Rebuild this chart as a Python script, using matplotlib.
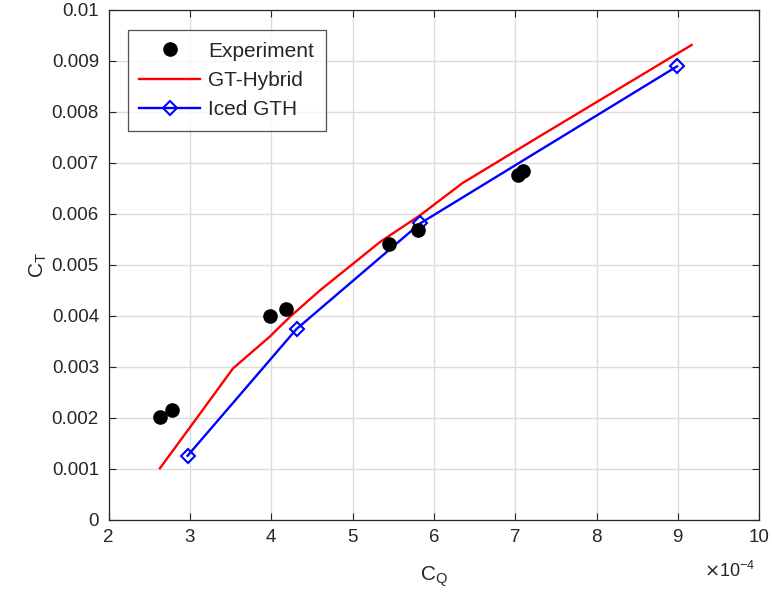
import matplotlib
matplotlib.use('Agg')
import matplotlib.pyplot as plt
import numpy as np

plt.rcParams['font.family'] = ['Liberation Sans', 'DejaVu Sans']

# C_Q values are in units of 1e-4 (axis shows x10^-4 offset)
exp_cq = [2.63, 2.78, 3.98, 4.18, 5.45, 5.80, 7.03, 7.09]
exp_ct = [0.00202, 0.00216, 0.00399, 0.00413, 0.00541, 0.00569, 0.00677, 0.00683]

gth_cq = [2.63, 3.04, 3.53, 3.98, 4.23, 4.60, 5.34, 5.83, 6.35, 7.25, 9.17]
gth_ct = [0.00101, 0.00190, 0.00297, 0.00359, 0.00398, 0.00450, 0.00545, 0.00597,
          0.00660, 0.00747, 0.00931]

iced_cq = [2.97, 4.31, 5.83, 8.99]
iced_ct = [0.001255, 0.00374, 0.00581, 0.00889]

xticks = [2, 3, 4, 5, 6, 7, 8, 9, 10]
yticks = [0, 0.001, 0.002, 0.003, 0.004, 0.005, 0.006, 0.007, 0.008, 0.009, 0.01]
ytick_labels = ['0', '0.001', '0.002', '0.003', '0.004', '0.005', '0.006',
                '0.007', '0.008', '0.009', '0.01']

txt = '#262626'

fig = plt.figure(figsize=(7.72, 5.92), dpi=100)
ax = fig.add_axes([0.1408, 0.122, 0.8425, 0.8615])

ax.plot(exp_cq, exp_ct, 'o', color='k', markersize=9.5, label='Experiment', zorder=4)
ax.plot(gth_cq, gth_ct, '-', color='#ff0000', lw=1.7, label='GT-Hybrid', zorder=3)
ax.plot(iced_cq, iced_ct, '-D', color='#0000ff', lw=1.7, markersize=7.5,
        markerfacecolor='none', markeredgewidth=1.5, label='Iced GTH', zorder=3)

ax.set_xlim(2, 10)
ax.set_ylim(0, 0.01)
ax.set_xticks(xticks)
ax.set_xticklabels([str(t) for t in xticks])
ax.set_yticks(yticks)
ax.set_yticklabels(ytick_labels)

ax.grid(True, color='#dcdcdc', lw=1.0)
ax.set_axisbelow(True)
ax.tick_params(direction='in', length=5, width=0.8, colors=txt, labelsize=13.5,
               top=True, right=True, pad=7)
for s in ax.spines.values():
    s.set_color(txt)
    s.set_linewidth(0.9)

ax.set_xlabel('C$_\\mathregular{Q}$', fontsize=15, color=txt, labelpad=13)
ax.set_ylabel('C$_\\mathregular{T}$', fontsize=15, color=txt, labelpad=2)
fig.text(0.945, 0.025, '$\\times$10$^{\\mathregular{-4}}$', fontsize=13, color=txt,
         ha='center', va='baseline')

leg = ax.legend(loc='upper left', bbox_to_anchor=(0.0297, 0.960), borderaxespad=0,
                fontsize=15, frameon=True, fancybox=False, edgecolor=txt,
                handlelength=2.9, borderpad=0.55, labelspacing=0.5,
                handletextpad=0.4)
leg.get_frame().set_linewidth(0.9)
for t in leg.get_texts():
    t.set_color(txt)

fig.savefig('out.png', dpi=100)
